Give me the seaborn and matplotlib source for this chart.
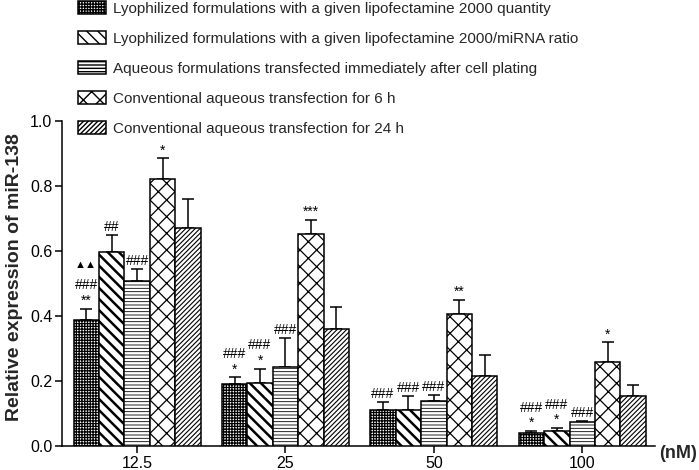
import matplotlib
matplotlib.use("Agg")
import matplotlib.pyplot as plt
import seaborn as sns
import pandas as pd
import numpy as np

# ---------------- data ----------------
doses = ["12.5", "25", "50", "100"]
series = [
    "Lyophilized formulations with a given lipofectamine 2000 quantity",
    "Lyophilized formulations with a given lipofectamine 2000/miRNA ratio",
    "Aqueous formulations transfected immediately after cell plating",
    "Conventional aqueous transfection for 6 h",
    "Conventional aqueous transfection for 24 h",
]
lyo_quantity = [0.387, 0.192, 0.112, 0.040]
lyo_ratio = [0.598, 0.194, 0.112, 0.047]
aq_immediate = [0.509, 0.244, 0.139, 0.075]
conv_6h = [0.822, 0.652, 0.405, 0.257]
conv_24h = [0.672, 0.360, 0.214, 0.153]

err_lyo_quantity = [0.036, 0.019, 0.023, 0.007]
err_lyo_ratio = [0.052, 0.044, 0.041, 0.008]
err_aq_immediate = [0.036, 0.088, 0.019, 0.003]
err_conv_6h = [0.063, 0.044, 0.044, 0.062]
err_conv_24h = [0.088, 0.069, 0.065, 0.034]

ann_lyo_quantity = [["**", "###", "▲▲"], ["*", "###"], ["###"], ["*", "###"]]
ann_lyo_ratio = [["##"], ["*", "###"], ["###"], ["*", "###"]]
ann_aq_immediate = [["###"], ["###"], ["###"], ["###"]]
ann_conv_6h = [["*"], ["***"], ["**"], ["*"]]
ann_conv_24h = [[], [], [], []]

yticks = [0.0, 0.2, 0.4, 0.6, 0.8, 1.0]
ylabel = "Relative expression of miR-138"
unit_label = "(nM)"

values = [lyo_quantity, lyo_ratio, aq_immediate, conv_6h, conv_24h]
errors = [err_lyo_quantity, err_lyo_ratio, err_aq_immediate, err_conv_6h, err_conv_24h]
annots = [ann_lyo_quantity, ann_lyo_ratio, ann_aq_immediate, ann_conv_6h, ann_conv_24h]

rows = []
for s, vals in zip(series, values):
    for d, v in zip(doses, vals):
        rows.append({"dose": d, "group": s, "value": v})
df = pd.DataFrame(rows)

# ---------------- style ----------------
sns.set_style("ticks")
plt.rcParams["font.family"] = ["Liberation Sans", "DejaVu Sans"]
plt.rcParams["hatch.linewidth"] = 1.0

fig = plt.figure(figsize=(6.99, 4.70), dpi=100)
ax = fig.add_axes([62 / 699, 24 / 470, (655 - 62) / 699, (446 - 121) / 470])

sns.barplot(data=df, x="dose", y="value", hue="group", order=doses,
            hue_order=series, palette=["white"] * 5, errorbar=None,
            width=0.857, gap=0, legend=False, ax=ax,
            edgecolor="black", linewidth=1.1)

hatches = ["++++++", "\\\\\\", "-----", "xx", "///////"]
hatch_lw = [0.9, 1.8, 0.6, 0.9, 0.8]

bar_containers = list(ax.containers)
for ci, cont in enumerate(bar_containers):
    for bi, p in enumerate(cont.patches):
        p.set_hatch(hatches[ci])
        p.set_edgecolor("black")
        p.set_facecolor("white")
        if hasattr(p, "set_hatch_linewidth"):
            p.set_hatch_linewidth(hatch_lw[ci])
        p.set_zorder(3)
        xc = p.get_x() + p.get_width() / 2
        top = p.get_height()
        e = errors[ci][bi]
        ax.errorbar([xc], [top], yerr=[[0], [e]], fmt="none", ecolor="black",
                    elinewidth=1.1, capsize=4.5, capthick=1.1, zorder=2)
        for li, lab in enumerate(annots[ci][bi]):
            y = top + e + 0.012 + 0.047 * li
            if lab.startswith("▲"):
                y += 0.02
            ax.text(xc, y, lab, ha="center", va="baseline",
                    fontsize=8 if lab.startswith("▲") else 10,
                    color="black", zorder=4,
                    family=["Liberation Sans", "DejaVu Sans"])

ax.set_xlim(-0.506, 3.49)
ax.set_ylim(0, 1.0)
ax.set_yticks(yticks)
ax.set_yticklabels([f"{t:.1f}" for t in yticks])
ax.set_xlabel("")
ax.set_ylabel(ylabel, fontsize=14, fontweight="bold")
ax.yaxis.set_label_coords(-39 / 593, 0.52)
ax.tick_params(axis="both", labelsize=11.5, length=5, width=1.1, colors="black")
ax.tick_params(axis="x", pad=2)
ax.tick_params(axis="y", pad=2)
for side in ["top", "right"]:
    ax.spines[side].set_visible(False)
for side in ["left", "bottom"]:
    ax.spines[side].set_linewidth(1.1)
    ax.spines[side].set_color("black")

fig.text(659 / 699, (470 - 454) / 470, unit_label, fontsize=13,
         fontweight="bold", ha="left", va="center")

handles = [c.patches[0] for c in bar_containers]
fig.legend(handles, series, loc="upper left",
           bbox_to_anchor=(78 / 699, 1 - 1.5 / 470), frameon=False,
           fontsize=11, handlelength=1.83, handleheight=0.92,
           handletextpad=0.46, labelspacing=0.99, borderpad=0,
           borderaxespad=0)

fig.savefig("out.png", dpi=100)
